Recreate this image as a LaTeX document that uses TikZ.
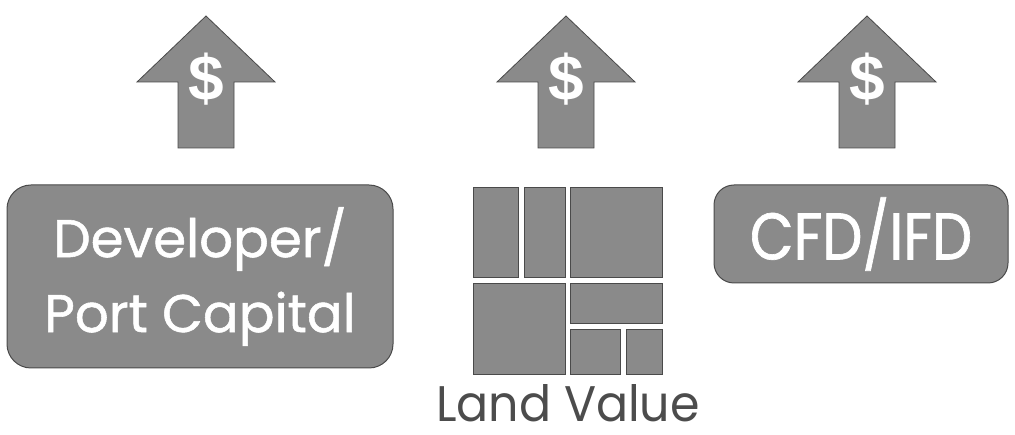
\documentclass[tikz,border=0pt]{standalone}
\usepackage{fontspec}
\setmainfont{Poppins}
\newfontfamily\labelfont{Poppins}[FakeBold=1]
\newfontfamily\cfdfont{Poppins}[FakeBold=1, FakeStretch=0.86]
\newfontfamily\landfont{Poppins}[FakeStretch=0.95]
\newfontfamily\dollarfont{Liberation Sans}

\definecolor{plate}{HTML}{8A8A8A}
\definecolor{rim}{HTML}{4A4A4A}
\definecolor{ink}{HTML}{4C4C4C}

\tikzset{
  lot/.style={fill=plate, draw=rim, line width=0.8pt},
  labelbox/.style={rounded corners=24pt, fill=plate, draw=rim, line width=1pt,
    text=white, align=center, inner sep=0pt},
}

\begin{document}
\begin{tikzpicture}[x=1pt,y=-1pt]

%% Fixed frame, same margins as the original
\useasboundingbox (0,0) rectangle (1015,435);

%% Rising arrows with dollar sign
\foreach \cx/\nm in {206/devup, 566/landup, 867/cfdup}{
  \draw[lot] (\cx,16) -- (\cx+69,82) -- (\cx+28,82) -- (\cx+28,148)
    -- (\cx-28,148) -- (\cx-28,82) -- (\cx-69,82) -- cycle;
  \node[text=white, font=\dollarfont\bfseries\fontsize{64}{64}\selectfont] (\nm) at (\cx,79) {\$};
}

%% Developer box
\node[labelbox, minimum width=386pt, minimum height=183pt,
  font=\labelfont\fontsize{53}{75}\selectfont] (dev) at (200,276.5) {Developer/\\Port Capital};

%% Land parcels
\draw[lot] (473,187) rectangle (518,277);
\draw[lot] (524,187) rectangle (565,277);
\draw[lot] (570,187) rectangle (662,277);
\draw[lot] (473,283) rectangle (565,374);
\draw[lot] (570,283) rectangle (662,323);
\draw[lot] (570,329) rectangle (620,374);
\draw[lot] (626,329) rectangle (662,374);
\node[text=ink, anchor=base, inner sep=0pt, text depth=0pt,
  font=\landfont\fontsize{50}{50}\selectfont] (land) at (568,421) {Land Value};

%% CFD box
\node[labelbox, rounded corners=20pt, minimum width=294pt, minimum height=98pt,
  font=\cfdfont\fontsize{66}{66}\selectfont] (cfd) at (861,234) {CFD/IFD};

\end{tikzpicture}
\end{document}
